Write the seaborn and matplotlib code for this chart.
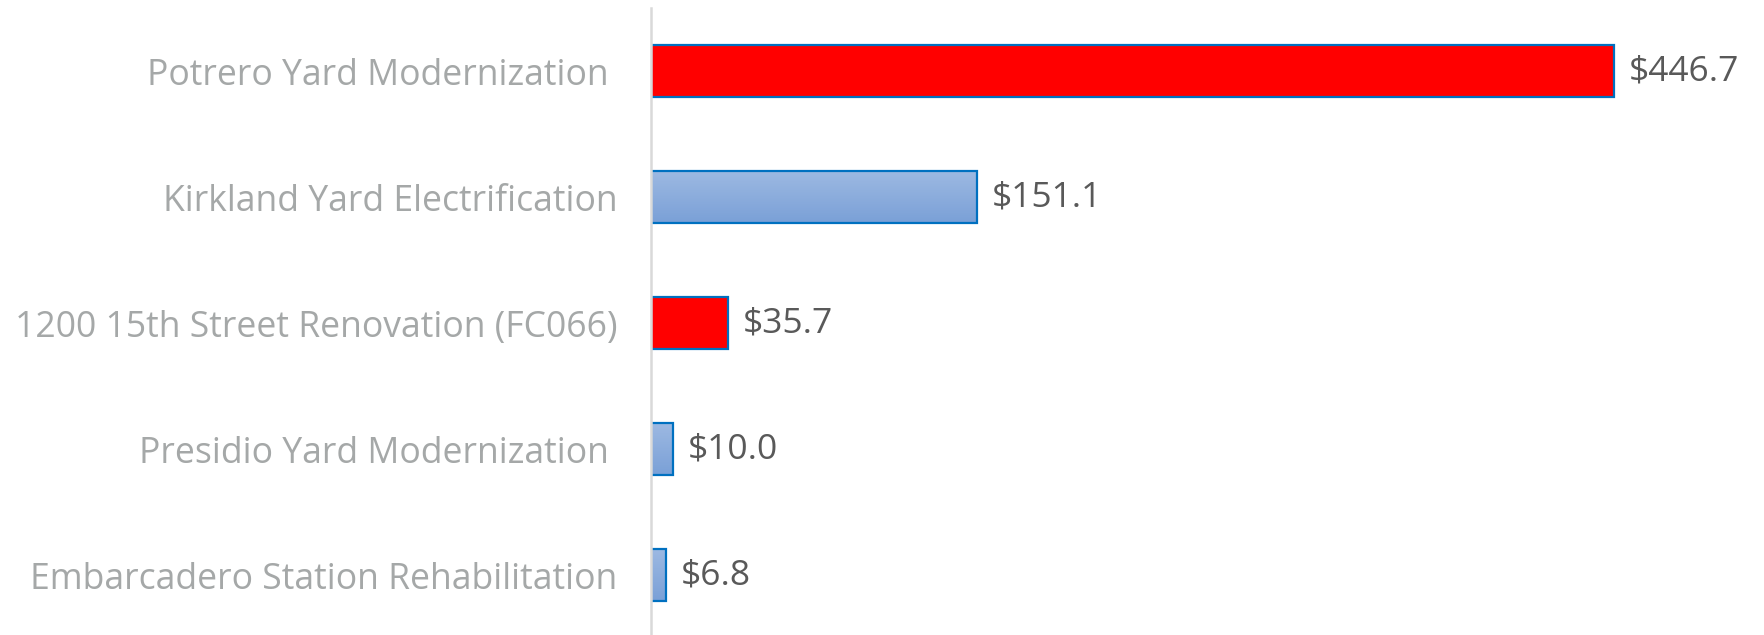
import numpy as np
import pandas as pd
import matplotlib
matplotlib.use("Agg")
import matplotlib.pyplot as plt
import seaborn as sns
from matplotlib.colors import LinearSegmentedColormap

projects = [
    "Potrero Yard Modernization ",
    "Kirkland Yard Electrification",
    "1200 15th Street Renovation (FC066)",
    "Presidio Yard Modernization ",
    "Embarcadero Station Rehabilitation",
]
values = [446.7, 151.1, 35.7, 10.0, 6.8]
highlight = [True, False, True, False, False]

sns.set_theme(style="white")
plt.rcParams["font.family"] = ["Open Sans", "DejaVu Sans"]

df = pd.DataFrame({"project": projects, "value": values,
                   "group": ["hi" if h else "lo" for h in highlight]})

fig = plt.figure(figsize=(17.65, 6.35), dpi=100)
ax = fig.add_axes([651 / 1765, -0.005, 1 - 651 / 1765, 0.992])

sns.barplot(data=df, y="project", x="value", hue="group",
            palette={"hi": "#FF0000", "lo": "#8EAEDD"}, dodge=False,
            saturation=1, width=0.41, edgecolor="#0070C0", linewidth=1.6,
            legend=False, ax=ax, orient="h")

# gradient fill for the blue bars
grad = np.linspace(0, 1, 256).reshape(-1, 1)
cmap = LinearSegmentedColormap.from_list("g", ["#9DB9E2", "#7AA0D7"])
for p in ax.patches:
    fc = p.get_facecolor()
    if fc[0] > 0.9 and fc[1] < 0.1:
        continue
    x0, y0 = p.get_x(), p.get_y()
    w, h = p.get_width(), p.get_height()
    if w <= 0:
        continue
    im = ax.imshow(grad, cmap=cmap, aspect="auto",
                   extent=[x0, x0 + w, y0 + h, y0], zorder=p.get_zorder() - 0.1,
                   origin="upper")
    im.set_clip_path(p)
    p.set_facecolor("none")

for c in ax.containers:
    ax.bar_label(c, labels=[f"${v:.1f}" if v == v else "" for v in c.datavalues],
                 padding=11, fontsize=25.5, color="#595959")

ax.set_xlim(0, 517)
ax.set_ylim(4.5, -0.5)
ax.set_xlabel("")
ax.set_ylabel("")
ax.set_xticks([])
ax.tick_params(axis="y", length=0, pad=24, labelsize=25.6, labelcolor="#A5A8A8")
for s in ["top", "right", "bottom"]:
    ax.spines[s].set_visible(False)
ax.spines["left"].set_color("#D9D9D9")
ax.spines["left"].set_linewidth(1.8)

fig.savefig("out.png", dpi=100)
